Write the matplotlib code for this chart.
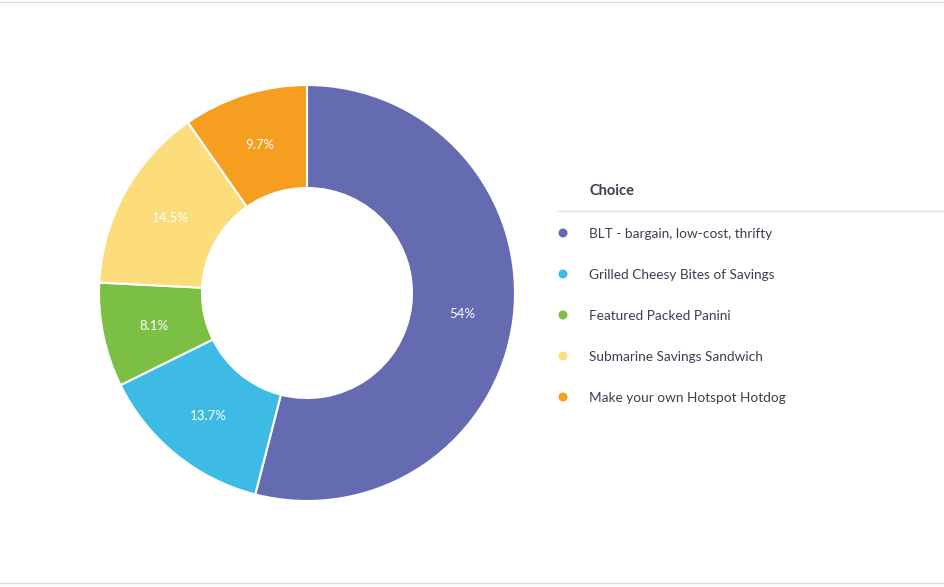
import matplotlib.pyplot as plt
import numpy as np
from matplotlib.lines import Line2D

plt.rcParams["font.family"] = ["Lato", "DejaVu Sans"]

# survey data, clockwise from 12 o'clock
choices = [
    "BLT - bargain, low-cost, thrifty",
    "Grilled Cheesy Bites of Savings",
    "Featured Packed Panini",
    "Submarine Savings Sandwich",
    "Make your own Hotspot Hotdog",
]
shares = [54.0, 13.7, 8.1, 14.5, 9.7]
share_labels = ["54%", "13.7%", "8.1%", "14.5%", "9.7%"]
colors = ["#656bb0", "#3dbbe4", "#7bc043", "#fddc7c", "#f59e20"]
legend_title = "Choice"

W, H = 944, 587
fig = plt.figure(figsize=(W / 100, H / 100), dpi=100)
ax = fig.add_axes([0, 0, 1, 1])

# donut, sized in pixel units
cx, cy = 307, H - 293
outer_r = 208
ring_w = 103
ax.pie(
    shares,
    colors=colors,
    startangle=90,
    counterclock=False,
    radius=outer_r,
    center=(cx, cy),
    wedgeprops=dict(width=ring_w, edgecolor="white", linewidth=1.5),
    frame=True,
)

ang = 90.0
label_r = outer_r - ring_w / 2
for val, lab in zip(shares, share_labels):
    span = val / sum(shares) * 360
    mid = np.deg2rad(ang - span / 2)
    ang -= span
    ax.text(cx + label_r * np.cos(mid), cy + label_r * np.sin(mid) - 1, lab,
            color="white", fontsize=9.5, ha="center", va="center")

# legend drawn by hand
ax.text(589, H - 191, legend_title, fontsize=10.5, fontweight="bold",
        color="#3b3e4e", ha="left", va="center")
ax.add_line(Line2D([557, 944], [H - 211, H - 211], color="#e2e2e2", lw=1))
row_y = [233, 274, 315, 356, 397]
ax.scatter([563] * len(choices), [H - y for y in row_y], s=42, c=colors,
           edgecolors="none", zorder=3)
for y, name in zip(row_y, choices):
    ax.text(589, H - y - 1, name, fontsize=9.85, color="#3b3e4e", ha="left", va="center")

# thin frame lines at top and bottom
ax.add_line(Line2D([0, W], [H - 2, H - 2], color="#dcdcdc", lw=1))
ax.add_line(Line2D([0, W], [H - 583, H - 583], color="#dcdcdc", lw=1))

ax.set_xlim(0, W)
ax.set_ylim(0, H)
ax.set_aspect("auto")
ax.axis("off")

fig.savefig("out.png", dpi=100)
